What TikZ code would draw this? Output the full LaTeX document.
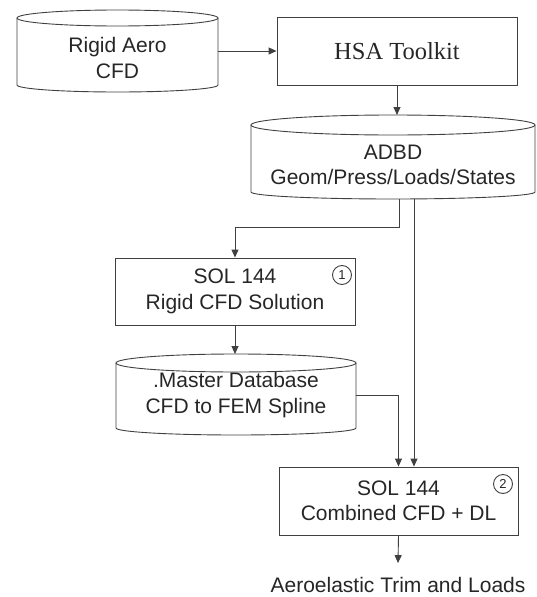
\documentclass[tikz,border=0pt]{standalone}
\usepackage{fontspec}
\setmainfont{Liberation Sans}
\newfontfamily\hsafont{Liberation Serif}
\usetikzlibrary{arrows.meta,calc}
\tikzset{
  ln/.style={line width=0.9pt, draw=black!75},
  arr/.style={ln, -{Triangle[length=8pt,width=7pt]}},
  txt/.style={font=\fontsize{21}{25.5}\selectfont, align=center, inner sep=0pt, text=black!85},
  boxn/.style={txt, ln, draw, rectangle},
  num/.style={circle, ln, draw, minimum size=19pt, inner sep=0pt, font=\fontsize{13}{13}\selectfont, text=black!85},
}
\newcommand\dbdrum[6]{%
  \draw[ln] (#1,#3) -- (#1,#4) arc[start angle=180,end angle=0,x radius={(#2-#1)/2},y radius=#6] -- (#2,#3);
  \draw[ln] ({(#1+#2)/2},#3) ellipse[x radius={(#2-#1)/2}, y radius=#5];
}
\begin{document}
\begin{tikzpicture}[x=1pt,y=-1pt]
\useasboundingbox (0,0) rectangle (536,597);
% cylinders
\dbdrum{17}{218}{18}{85}{8}{7}
\dbdrum{251}{535}{125}{192}{10}{7}
\dbdrum{116}{356}{363}{428}{9}{7}
% text of cylinders
\node[txt, minimum width=201pt] (rigid) at (117.5,58) {Rigid Aero\\CFD};
\node[txt, minimum width=284pt] (adbd) at (393,165) {ADBD\\Geom/Press/Loads/States};
\node[txt, minimum width=240pt] (master) at (236,395) {.Master Database\\CFD to FEM Spline};
\coordinate (adbdtop) at (398,115);
\coordinate (adbdbot) at (393,199);
\coordinate (mastertop) at (236,354);
% boxes
\node[boxn, minimum width=240pt, minimum height=68pt, font=\hsafont\fontsize{24.5}{28}\selectfont] (hsa) at (397,51) {HSA Toolkit};
\node[boxn, minimum width=240pt, minimum height=67pt] (sol1) at (235,291.5) {SOL 144\\Rigid CFD Solution};
\node[boxn, minimum width=239pt, minimum height=68pt] (sol2) at (398.5,501) {SOL 144\\Combined CFD + DL};
\node[num] (c1) at (342,275) {1};
\node[num] (c2) at (503,484) {2};
\node[txt] (out) at (398,585) {Aeroelastic Trim and Loads};
% connectors
\draw[arr] (rigid.east |- hsa.west) -- (hsa.west);
\draw[arr] (hsa.south) -- (hsa.south |- adbdtop);
\draw[arr] ([xshift=6pt]adbdbot) -- ++(0,28) -| (sol1.north);
\draw[arr] ([xshift=21pt]adbdbot) -- ([xshift=21pt]adbdbot |- sol2.north);
\draw[arr] (sol1.south) -- (sol1.south |- mastertop);
\draw[arr] (master.east) -| (sol2.north);
\draw[arr] (sol2.south) -- ([yshift=14pt]out.north);
\end{tikzpicture}
\end{document}
